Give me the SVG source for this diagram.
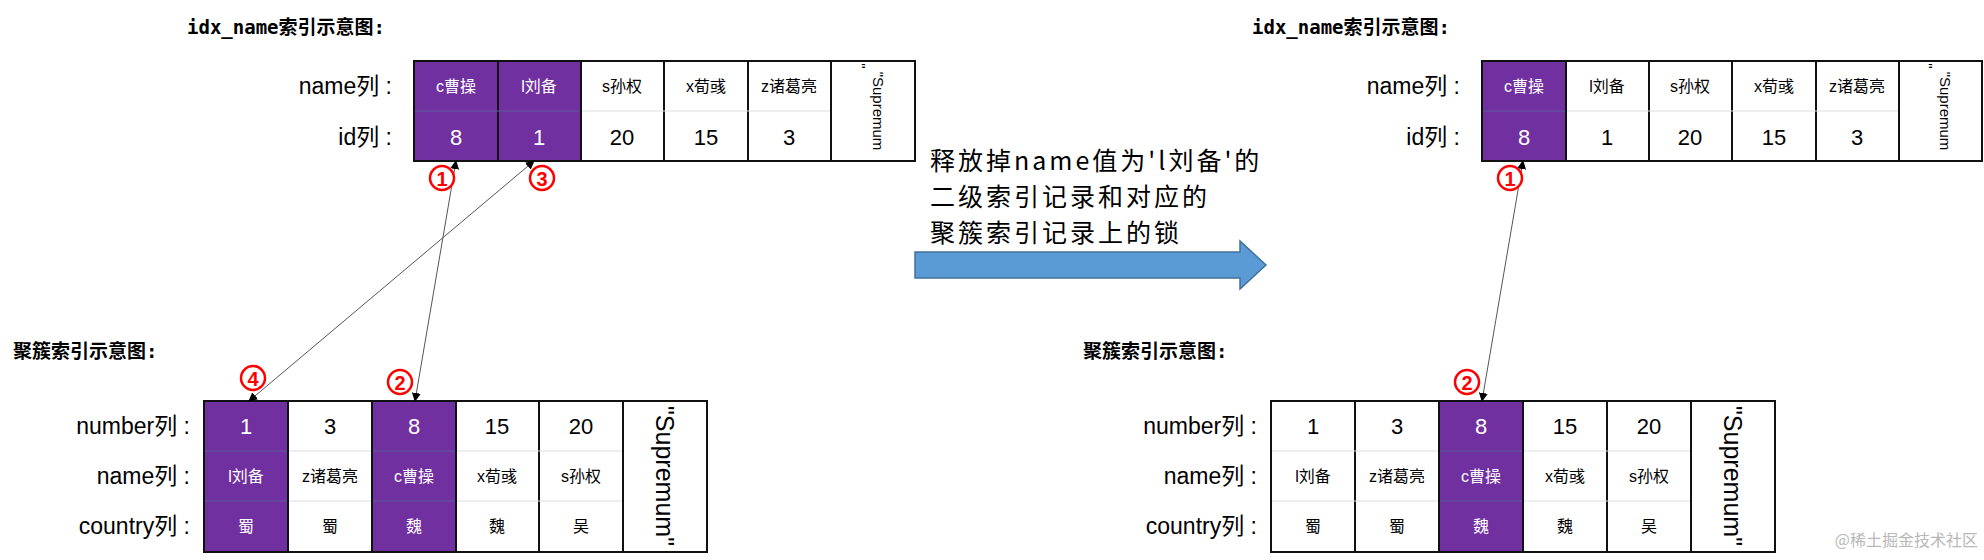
<svg xmlns="http://www.w3.org/2000/svg" width="1984" height="560" viewBox="0 0 1984 560">
<defs>
<style>
.t{font-family:"Liberation Sans","Noto Sans CJK SC",sans-serif;text-anchor:middle;dominant-baseline:central}
.lbl{font-family:"Liberation Sans","Noto Sans CJK SC",sans-serif;text-anchor:end;dominant-baseline:central;font-size:23px;fill:#000}
.ttl{font-family:"DejaVu Sans Mono","Noto Sans CJK SC",monospace;font-size:19px;font-weight:bold;fill:#000}
.p{fill:#7030a0;stroke:#111;stroke-width:2}
.w{fill:#fff;stroke:#111;stroke-width:2}
.s1{stroke:#5a5aa0;stroke-width:1}
.s2{stroke:#ddd;stroke-width:1}
.wt{fill:#fff}
.bt{fill:#000}
.f1{font-size:16px}
.f2{font-size:22px}
.f3{font-size:15px}
.c{fill:#fff;stroke:#f00;stroke-width:2.5}
.cn{font-family:"Liberation Sans",sans-serif;font-weight:bold;font-size:20px;fill:#f00;text-anchor:middle;dominant-baseline:central}
.con{stroke:#555;stroke-width:1;fill:none;marker-start:url(#a);marker-end:url(#a)}
.cap{font-family:"Noto Sans CJK SC",sans-serif;font-size:25px;letter-spacing:3px;fill:#000}
</style>
<marker id="a" viewBox="0 0 10 10" refX="9" refY="5" markerWidth="9" markerHeight="9" orient="auto-start-reverse" markerUnits="userSpaceOnUse"><path d="M0,0 L10,5 L0,10 z" fill="#000"/></marker>
</defs>

<g id="title-left-idx"><text class="ttl" x="187" y="34">idx_name索引示意图:</text></g>
<g id="title-left-clu"><text class="ttl" x="13" y="358">聚簇索引示意图:</text></g>
<g id="title-right-idx"><text class="ttl" x="1252" y="34">idx_name索引示意图:</text></g>
<g id="title-right-clu"><text class="ttl" x="1083" y="358">聚簇索引示意图:</text></g>

<g id="top-left-table">
<text class="lbl" x="392" y="86">name列 :</text>
<text class="lbl" x="392" y="137">id列 :</text>
<rect class="p" x="414" y="61" width="84" height="100"/>
<rect class="p" x="498" y="61" width="83" height="100"/>
<rect class="w" x="581" y="61" width="83" height="100"/>
<rect class="w" x="664" y="61" width="84" height="100"/>
<rect class="w" x="748" y="61" width="83" height="100"/>
<rect class="w" x="831" y="61" width="84" height="100"/>
<line class="s1" x1="415" y1="111" x2="580" y2="111"/>
<line class="s2" x1="582" y1="111" x2="830" y2="111"/>
<text class="t wt f1" x="456" y="86">c曹操</text><text class="t wt f1" x="539" y="86">l刘备</text>
<text class="t bt f1" x="622" y="86">s孙权</text><text class="t bt f1" x="706" y="86">x荀彧</text><text class="t bt f1" x="789" y="86">z诸葛亮</text>
<text class="t wt f2" x="456" y="137">8</text><text class="t wt f2" x="539" y="137">1</text>
<text class="t bt f2" x="622" y="137">20</text><text class="t bt f2" x="706" y="137">15</text><text class="t bt f2" x="789" y="137">3</text>
<text class="t bt f3" transform="translate(873,111) rotate(90)" x="0" y="-5">"Supremum</text>
<text class="t bt f3" transform="translate(873,111) rotate(90)" x="-45" y="13">"</text>
</g>

<g id="top-right-table">
<text class="lbl" x="1460" y="86">name列 :</text>
<text class="lbl" x="1460" y="137">id列 :</text>
<rect class="p" x="1482" y="61" width="84" height="100"/>
<rect class="w" x="1566" y="61" width="83" height="100"/>
<rect class="w" x="1649" y="61" width="83" height="100"/>
<rect class="w" x="1732" y="61" width="84" height="100"/>
<rect class="w" x="1816" y="61" width="83" height="100"/>
<rect class="w" x="1899" y="61" width="83" height="100"/>
<line class="s1" x1="1483" y1="111" x2="1565" y2="111"/>
<line class="s2" x1="1567" y1="111" x2="1898" y2="111"/>
<text class="t wt f1" x="1524" y="86">c曹操</text><text class="t bt f1" x="1607" y="86">l刘备</text>
<text class="t bt f1" x="1690" y="86">s孙权</text><text class="t bt f1" x="1774" y="86">x荀彧</text><text class="t bt f1" x="1857" y="86">z诸葛亮</text>
<text class="t wt f2" x="1524" y="137">8</text><text class="t bt f2" x="1607" y="137">1</text>
<text class="t bt f2" x="1690" y="137">20</text><text class="t bt f2" x="1774" y="137">15</text><text class="t bt f2" x="1857" y="137">3</text>
<text class="t bt f3" transform="translate(1940,111) rotate(90)" x="0" y="-5">"Supremum</text>
<text class="t bt f3" transform="translate(1940,111) rotate(90)" x="-45" y="13">"</text>
</g>

<g id="bottom-left-table">
<text class="lbl" x="190" y="426">number列 :</text>
<text class="lbl" x="190" y="476">name列 :</text>
<text class="lbl" x="190" y="526">country列 :</text>
<rect class="p" x="204" y="401" width="84" height="151"/>
<rect class="w" x="288" y="401" width="84" height="151"/>
<rect class="p" x="372" y="401" width="84" height="151"/>
<rect class="w" x="456" y="401" width="83" height="151"/>
<rect class="w" x="539" y="401" width="84" height="151"/>
<rect class="w" x="623" y="401" width="84" height="151"/>
<line class="s1" x1="205" y1="451" x2="287" y2="451"/><line class="s1" x1="205" y1="501" x2="287" y2="501"/>
<line class="s1" x1="373" y1="451" x2="455" y2="451"/><line class="s1" x1="373" y1="501" x2="455" y2="501"/>
<line class="s2" x1="289" y1="451" x2="371" y2="451"/><line class="s2" x1="289" y1="501" x2="371" y2="501"/>
<line class="s2" x1="457" y1="451" x2="622" y2="451"/><line class="s2" x1="457" y1="501" x2="622" y2="501"/>
<text class="t wt f2" x="246" y="426">1</text><text class="t bt f2" x="330" y="426">3</text><text class="t wt f2" x="414" y="426">8</text><text class="t bt f2" x="497" y="426">15</text><text class="t bt f2" x="581" y="426">20</text>
<text class="t wt f1" x="246" y="476">l刘备</text><text class="t bt f1" x="330" y="476">z诸葛亮</text><text class="t wt f1" x="414" y="476">c曹操</text><text class="t bt f1" x="497" y="476">x荀彧</text><text class="t bt f1" x="581" y="476">s孙权</text>
<text class="t wt f1" x="246" y="526">蜀</text><text class="t bt f1" x="330" y="526">蜀</text><text class="t wt f1" x="414" y="526">魏</text><text class="t bt f1" x="497" y="526">魏</text><text class="t bt f1" x="581" y="526">吴</text>
<text class="t bt" style="font-size:25px" transform="translate(665,476) rotate(90)">"Supremum"</text>
</g>

<g id="bottom-right-table">
<text class="lbl" x="1257" y="426">number列 :</text>
<text class="lbl" x="1257" y="476">name列 :</text>
<text class="lbl" x="1257" y="526">country列 :</text>
<rect class="w" x="1271" y="401" width="84" height="151"/>
<rect class="w" x="1355" y="401" width="84" height="151"/>
<rect class="p" x="1439" y="401" width="84" height="151"/>
<rect class="w" x="1523" y="401" width="84" height="151"/>
<rect class="w" x="1607" y="401" width="84" height="151"/>
<rect class="w" x="1691" y="401" width="84" height="151"/>
<line class="s2" x1="1272" y1="451" x2="1438" y2="451"/><line class="s2" x1="1272" y1="501" x2="1438" y2="501"/>
<line class="s1" x1="1440" y1="451" x2="1522" y2="451"/><line class="s1" x1="1440" y1="501" x2="1522" y2="501"/>
<line class="s2" x1="1524" y1="451" x2="1690" y2="451"/><line class="s2" x1="1524" y1="501" x2="1690" y2="501"/>
<text class="t bt f2" x="1313" y="426">1</text><text class="t bt f2" x="1397" y="426">3</text><text class="t wt f2" x="1481" y="426">8</text><text class="t bt f2" x="1565" y="426">15</text><text class="t bt f2" x="1649" y="426">20</text>
<text class="t bt f1" x="1313" y="476">l刘备</text><text class="t bt f1" x="1397" y="476">z诸葛亮</text><text class="t wt f1" x="1481" y="476">c曹操</text><text class="t bt f1" x="1565" y="476">x荀彧</text><text class="t bt f1" x="1649" y="476">s孙权</text>
<text class="t bt f1" x="1313" y="526">蜀</text><text class="t bt f1" x="1397" y="526">蜀</text><text class="t wt f1" x="1481" y="526">魏</text><text class="t bt f1" x="1565" y="526">魏</text><text class="t bt f1" x="1649" y="526">吴</text>
<text class="t bt" style="font-size:25px" transform="translate(1733,476) rotate(90)">"Supremum"</text>
</g>

<g id="connectors">
<line class="con" x1="456" y1="161" x2="415" y2="401"/>
<line class="con" x1="534" y1="161" x2="249" y2="401"/>
<line class="con" x1="1523" y1="161" x2="1482" y2="401"/>
</g>

<g id="markers-circled">
<circle class="c" cx="442" cy="178" r="12"/><text class="cn" x="442" y="179">1</text>
<circle class="c" cx="542" cy="178" r="12"/><text class="cn" x="542" y="179">3</text>
<circle class="c" cx="253" cy="378" r="12"/><text class="cn" x="253" y="379">4</text>
<circle class="c" cx="400" cy="382" r="12"/><text class="cn" x="400" y="383">2</text>
<circle class="c" cx="1510" cy="178" r="12"/><text class="cn" x="1510" y="179">1</text>
<circle class="c" cx="1467" cy="382" r="12"/><text class="cn" x="1467" y="383">2</text>
</g>

<g id="release-arrow">
<path d="M915,252 L1240,252 L1240,241 L1266,265 L1240,289 L1240,278 L915,278 Z" fill="#5b9bd5" stroke="#41719c" stroke-width="1.5"/>
<text class="cap" x="930" y="170">释放掉name值为'l刘备'的</text>
<text class="cap" x="930" y="206">二级索引记录和对应的</text>
<text class="cap" x="930" y="242">聚簇索引记录上的锁</text>
</g>

<g id="watermark"><text x="1978" y="546" style="font-family:'Noto Sans CJK SC',sans-serif;font-size:16px;fill:#b8b8b8;text-anchor:end">@稀土掘金技术社区</text></g>
</svg>
